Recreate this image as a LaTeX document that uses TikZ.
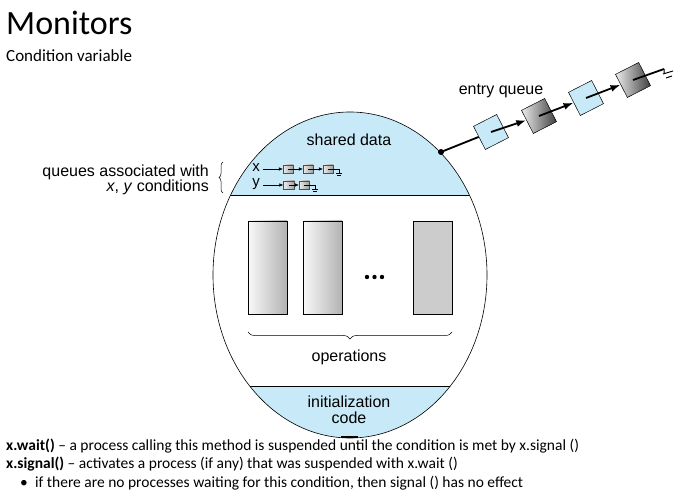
\documentclass[tikz,border=0pt]{standalone}
\usepackage{fontspec}
\setmainfont{Carlito}
\newfontfamily\arialf{Liberation Sans}
\usetikzlibrary{arrows.meta,decorations.pathreplacing,shapes.geometric}
\definecolor{mblue}{RGB}{200,233,247}
\begin{document}
\begin{tikzpicture}[x=1pt,y=-1pt,
  lab/.style={font=\arialf\fontsize{16}{19}\selectfont, inner sep=0pt},
  qbox/.style={draw=black, line width=0.5pt, minimum size=26pt, inner sep=0pt, rotate=27},
  bluebox/.style={qbox, fill=mblue},
  darkbox/.style={qbox, left color=gray!15, right color=black!75},
  opbox/.style={draw=black, line width=0.6pt, minimum width=39pt, minimum height=93pt, inner sep=0pt},
  sbox/.style={draw=black!70, line width=0.3pt, minimum width=10pt, minimum height=8pt, inner sep=0pt, left color=gray!15, right color=gray!75},
  link/.style={line width=1.8pt},
  alink/.style={line width=1.8pt, -{Latex[length=10pt,width=7pt]}},
  slink/.style={line width=0.5pt, -{Latex[length=4pt,width=3.5pt]}},
  txt/.style={anchor=base west, inner sep=0pt, font=\fontsize{15.5}{18}\selectfont}
]
\useasboundingbox (0,0) rectangle (691,502);
% monitor ellipse
\coordinate (C) at (350,275);
\fill[white] (C) ellipse [x radius=137, y radius=163];
\begin{scope}
  \clip (C) ellipse [x radius=137, y radius=163];
  \fill[mblue] (200,100) rectangle (500,195);
  \fill[mblue] (200,386) rectangle (500,450);
  \draw[line width=0.6pt] (200,195) -- (500,195);
  \draw[line width=0.6pt] (200,386) -- (500,386);
\end{scope}
\draw[line width=0.6pt] (C) ellipse [x radius=137, y radius=163];
\draw[line width=2.5pt] (341,437) -- (358,437);

% labels inside
\node[lab] (shared) at (349,140) {shared data};
\node[lab] (ops) at (349,357) {operations};
\node[lab, align=center, font=\arialf\fontsize{16}{16}\selectfont] (init) at (349,410) {initialization\\code};

% operation boxes
\node[opbox, left color=gray!5, right color=gray!60] (op1) at (267.5,267.5) {};
\node[opbox, left color=gray!5, right color=gray!60] (op2) at (322.5,267.5) {};
\node[opbox, fill=gray!40] (op3) at (432.5,267.5) {};
\fill (367,277) circle (2.2) (374.5,277) circle (2.2) (382,277) circle (2.2);
\draw[decorate, decoration={brace, amplitude=7pt}, line width=0.5pt] (452,332) -- (248,332);

% condition queues
\node[lab, anchor=east] (q1) at (209,172) {queues associated with};
\node[lab, anchor=east] (q2) at (209,187) {\textit{x}, \textit{y} conditions};
\draw[decorate, decoration={brace, amplitude=4pt}, line width=0.5pt] (223,193) -- (223,162);

\node[lab, font=\arialf\fontsize{15}{15}\selectfont] (xl) at (256,168) {x};
\node[lab, font=\arialf\fontsize{15}{15}\selectfont] (yl) at (256,184) {y};
\node[sbox] (x1) at (288,169) {};
\node[sbox] (x2) at (308,169) {};
\node[sbox] (x3) at (328,169) {};
\node[sbox, minimum width=11pt] (y1) at (289,185) {};
\node[sbox] (y2) at (304,185) {};
\draw[slink] (xl.east) ++(3,1) -- (x1);
\draw[slink] (x1.center) -- (x2);
\draw[slink] (x2.center) -- (x3);
\draw[slink] (yl.east) ++(3,1) -- (y1);
\draw[slink] (y1.center) -- (y2);
\coordinate (xn) at (339,169);
\coordinate (yn) at (315,185);
\draw[line width=0.4pt] (x3.center) -- (xn) -- ++(0,4) (xn)++(-3,4) -- ++(6,0) (xn)++(-2,6) -- ++(4,0);
\draw[line width=0.4pt] (y2.center) -- (yn) -- ++(0,4) (yn)++(-3,4) -- ++(6,0) (yn)++(-2,6) -- ++(4,0);

% entry queue
\coordinate (dot) at (441,152);
\node[bluebox] (b1) at (491,132) {};
\node[darkbox] (b2) at (539,116) {};
\node[bluebox] (b3) at (586,98) {};
\node[darkbox] (b4) at (633,80) {};
\draw[link] (dot) -- (b1);
\fill (dot) circle (3);
\draw[alink] (b1.center) -- (b2);
\draw[alink] (b2.center) -- (b3);
\draw[alink] (b3.center) -- (b4);
\coordinate (gnd) at (664,69);
\draw[link] (b4.center) -- (gnd);
\draw[line width=1pt] (gnd) -- ++(0,5) (gnd)++(-1,5) -- ++(10,-3) (gnd)++(2,9) -- ++(6,-2);
\node[lab] (eq) at (501,91) {entry queue};

% titles and text
\node[anchor=base west, inner sep=0pt, font=\fontsize{34}{40}\selectfont] (title) at (6,35) {Monitors};
\node[anchor=base west, inner sep=0pt, font=\fontsize{17}{20}\selectfont] (sub) at (6,62) {Condition variable};
\node[txt] (l1) at (6,450) {\textbf{x.wait()} – a process calling this method is suspended until the condition is met by x.signal ()};
\node[txt] (l2) at (6,468) {\textbf{x.signal()} – activates a process (if any) that was suspended with x.wait ()};
\node[txt] (bul) at (20,487) {•};
\node[txt] (l3) at (35,487) {if there are no processes waiting for this condition, then signal () has no effect};
\end{tikzpicture}
\end{document}
